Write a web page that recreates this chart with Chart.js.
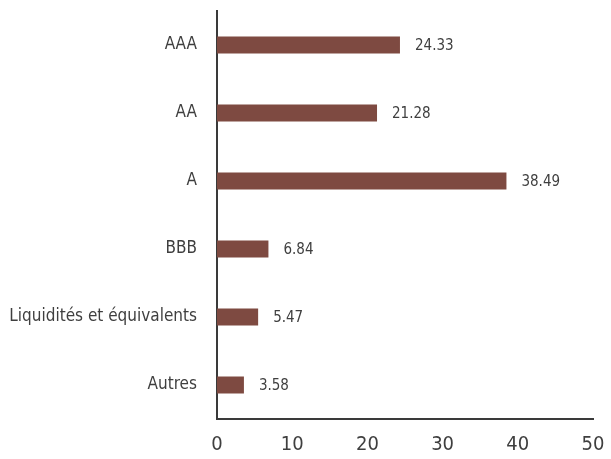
<!DOCTYPE html>
<html>
<head>
<meta charset="utf-8">
<script src="https://cdn.jsdelivr.net/npm/chart.js@4"></script>
<style>
  html, body { margin: 0; padding: 0; background: #fff; }
  #wrap { width: 611px; height: 459px; }
</style>
</head>
<body>
<div id="wrap"><canvas id="ratingChart" width="611" height="459"></canvas></div>
<script>
// Répartition par notation
const categories = ['AAA', 'AA', 'A', 'BBB', 'Liquidités et équivalents', 'Autres'];
const weights = [24.33, 21.28, 38.49, 6.84, 5.47, 3.58];
const xTicks = [0, 10, 20, 30, 40, 50];

const FONT = "'DejaVu Sans Condensed', 'Liberation Sans Narrow', sans-serif";
const TEXT = '#3f3f3f';

// values written just after the end of each bar
const barValues = {
    id: 'barValues',
    afterDatasetsDraw(chart) {
        const ctx = chart.ctx;
        const meta = chart.getDatasetMeta(0);
        ctx.save();
        ctx.font = '15px ' + FONT;
        ctx.fillStyle = TEXT;
        ctx.textAlign = 'left';
        ctx.textBaseline = 'middle';
        meta.data.forEach((bar, i) => {
            ctx.fillText(weights[i].toFixed(2), bar.x + 15, bar.y + 1);
        });
        ctx.restore();
    }
};

document.addEventListener("DOMContentLoaded", function() {
    const ctx = document.getElementById('ratingChart').getContext('2d');
    new Chart(ctx, {
        type: 'bar',
        data: {
            labels: categories,
            datasets: [{
                data: weights,
                backgroundColor: '#7e4a41',
                borderWidth: 0,
                barPercentage: 0.5,
                categoryPercentage: 0.5
            }]
        },
        options: {
            indexAxis: 'y',
            responsive: false,
            animation: false,
            layout: { padding: { top: 11, right: 18, left: 0, bottom: 0 } },
            plugins: {
                legend: { display: false },
                tooltip: { enabled: false }
            },
            scales: {
                x: {
                    min: 0,
                    max: 50,
                    afterBuildTicks: (scale) => { scale.ticks = xTicks.map(v => ({ value: v })); },
                    afterFit: (scale) => {
                        scale.height = 40;
                        scale.paddingLeft = 0;
                        scale.paddingRight = 0;
                    },
                    grid: { display: false, drawTicks: false },
                    border: { display: true, color: '#3a3a3a', width: 2 },
                    ticks: {
                        color: TEXT,
                        padding: 14,
                        font: { family: FONT, size: 20 }
                    }
                },
                y: {
                    afterFit: (scale) => {
                        scale.width = 217;
                        scale.paddingTop = 0;
                        scale.paddingBottom = 0;
                    },
                    grid: { display: false, drawTicks: false },
                    border: { display: true, color: '#3a3a3a', width: 2 },
                    ticks: {
                        color: TEXT,
                        padding: 20,
                        font: { family: FONT, size: 17 }
                    }
                }
            }
        },
        plugins: [barValues]
    });
});
</script>
</body>
</html>
